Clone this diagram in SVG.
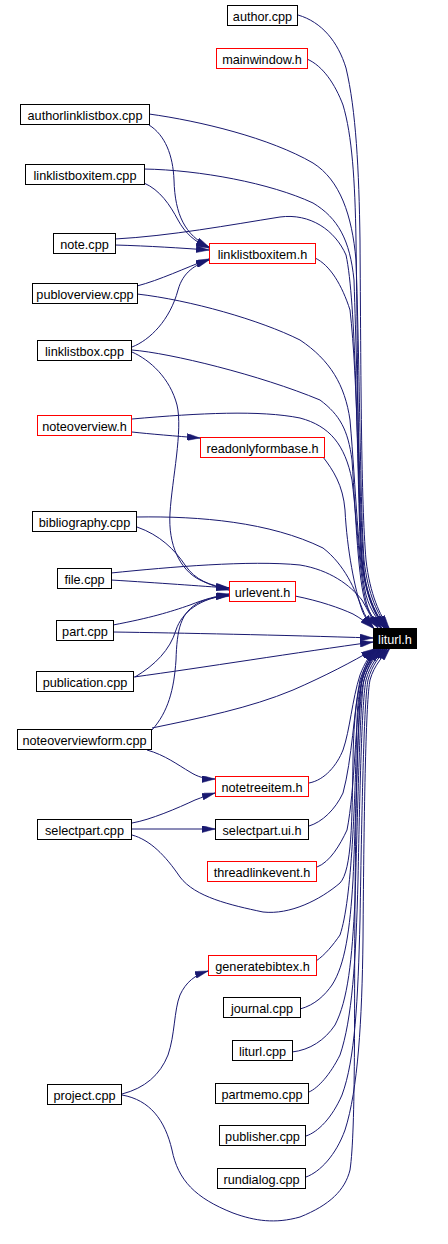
<svg xmlns="http://www.w3.org/2000/svg" width="448" height="1244" viewBox="0 0 448 1244">
<style>
.n rect{fill:#fff;stroke:#000;stroke-width:1}
.n.r rect{stroke:#ff0000}
.n text{font-family:"Liberation Sans",Arial,sans-serif;font-size:12.7px;fill:#000;text-anchor:middle}
.n.k rect{fill:#000;stroke:#000}
.n.k text{fill:#fff}
#edges path{fill:none;stroke:#191970;stroke-width:1;marker-end:url(#ah)}
</style>
<defs>
<marker id="ah" viewBox="0 0 13 7" markerWidth="13" markerHeight="7" refX="13" refY="3.5" orient="auto" markerUnits="userSpaceOnUse">
<path d="M0,0 L13,3.5 L0,7 z" fill="#191970" stroke="#191970" stroke-width="0.5"/>
</marker>
</defs>
<rect width="448" height="1244" fill="#fff"/>
<g id="edges">
<path d="M298,15 C322,22 338,42 346,68 C356,110 359,170 360,240 C361,380 361,500 366,560 C370,595 380,615 389,628"/>
<path d="M307,59 C323,66 335,84 343,105 C352,135 355,180 356,240 C358,380 358,500 362,560 C366,595 376,615 386,628"/>
<path d="M149,114 C200,121 270,138 313,163 C340,180 352,215 356,260 C360,380 360,500 364,560 C368,595 378,615 388,628"/>
<path d="M144,169 C200,170 270,183 313,203 C338,218 350,240 354,280 C358,400 360,520 364,570 C367,600 377,618 387,628"/>
<path d="M115,239 C170,236 230,225 280,217 C310,213 335,230 346,255 C356,300 357,450 360,540 C362,590 374,615 385,628"/>
<path d="M315,258 C330,265 342,285 350,310 C358,380 358,500 362,560 C365,595 376,616 386,628"/>
<path d="M137,294 C190,300 260,320 300,340 C330,360 345,385 350,420 C356,490 358,560 366,595 C370,610 378,620 384,628"/>
<path d="M132,350 C170,353 260,375 320,400 C340,415 348,430 352,460 C356,520 358,580 366,605 C370,615 376,622 382,628"/>
<path d="M132,419 C200,413 260,410 300,418 C330,426 345,445 352,480 C358,530 360,585 368,608 C372,618 377,624 381,628"/>
<path d="M323,457 C333,470 343,485 345,510 C347,550 355,590 362,610 C365,618 369,623 374,628"/>
<path d="M137,517 C200,516 270,522 323,548 C345,565 355,590 362,608 C365,616 369,622 373,628"/>
<path d="M111,573 C170,567 250,560 300,565 C330,570 350,585 362,600 C368,610 372,620 378,628"/>
<path d="M295,596 C320,601 340,608 353,614 C360,618 366,622 373,628"/>
<path d="M113,632 C180,633 280,635 373,638"/>
<path d="M134,677 C200,668 300,652 373,642"/>
<path d="M152,728 C200,718 250,708 293,690 C325,676 352,662 374,649"/>
<path d="M309,783 C325,780 337,765 343,750 C350,730 352,700 360,675 C365,662 370,655 376,648"/>
<path d="M309,826 C322,822 335,810 343,793 C352,760 354,710 360,680 C365,665 371,655 378,648"/>
<path d="M317,867 C330,862 340,845 347,830 C355,790 355,720 362,680 C366,665 372,655 380,648"/>
<path d="M132,835 C150,840 165,855 180,877 C195,897 230,905 263,912 C290,915 320,900 340,883 C352,870 352,820 353,760 C354,700 360,670 375,649"/>
<path d="M316,961 C325,955 333,945 340,935 C352,900 355,800 357,720 C358,680 368,660 380,648"/>
<path d="M300,1009 C315,1005 325,995 332,985 C345,965 350,930 353,880 C357,790 358,700 362,680 C366,665 374,655 382,648"/>
<path d="M292,1052 C310,1050 325,1040 335,1025 C348,1000 352,960 355,900 C358,800 360,700 364,680 C368,665 376,655 384,648"/>
<path d="M309,1092 C318,1088 330,1075 340,1055 C352,1020 356,960 358,880 C360,780 362,700 366,680 C370,665 378,655 386,648"/>
<path d="M306,1136 C318,1132 332,1118 342,1095 C355,1060 358,1000 360,920 C362,800 364,700 368,680 C372,665 380,655 388,648"/>
<path d="M306,1177 C320,1172 336,1155 345,1130 C358,1090 362,1020 363,940 C364,800 366,700 370,680 C374,665 384,655 390,648"/>
<path d="M122,1095 C150,1100 165,1120 172,1150 C178,1180 195,1198 233,1213 C255,1221 275,1224 300,1217 C330,1205 345,1190 350,1170 C356,1130 354,1000 355,900 C356,780 358,700 364,680 C368,666 374,656 378,648"/>
<path d="M149,125 C165,135 173,155 174,180 C175,215 185,235 209,247"/>
<path d="M144,183 C160,190 170,205 178,220 C185,233 195,242 209,248"/>
<path d="M115,245 C150,246 180,248 209,250"/>
<path d="M137,286 C160,280 185,268 209,259"/>
<path d="M132,347 C150,340 170,320 178,290 C183,272 195,265 209,260"/>
<path d="M132,432 C150,434 175,436 200,438"/>
<path d="M132,352 C150,360 170,378 177,405 C183,430 172,480 170,513 C168,545 180,570 200,580 C210,585 220,588 229,590"/>
<path d="M137,527 C160,535 175,550 185,565 C195,580 210,586 229,588"/>
<path d="M111,580 C160,583 200,586 229,588"/>
<path d="M113,625 C150,618 170,612 190,605 C205,599 217,596 229,594"/>
<path d="M135,677 C155,665 170,650 176,630 C182,612 200,598 229,595"/>
<path d="M152,730 C168,712 174,690 176,660 C177,630 180,612 200,602 C210,598 220,596 229,596"/>
<path d="M147,750 C165,755 178,765 190,772 C198,777 205,779 215,779"/>
<path d="M132,823 C150,820 178,808 195,800 C203,797 208,795 215,793"/>
<path d="M132,829 L215,829"/>
<path d="M122,1094 C145,1088 160,1075 168,1055 C175,1035 174,1010 180,995 C186,982 195,975 208,971"/>
</g>
<g id="author_cpp" class="n"><rect x="227.5" y="5.5" width="70" height="20"/><text x="262.5" y="21">author.cpp</text></g>
<g id="mainwindow_h" class="n r"><rect x="216.5" y="48.5" width="91" height="20"/><text x="262" y="64">mainwindow.h</text></g>
<g id="authorlinklistbox_cpp" class="n"><rect x="20.5" y="104.5" width="129" height="20"/><text x="85" y="120">authorlinklistbox.cpp</text></g>
<g id="linklistboxitem_cpp" class="n"><rect x="25.5" y="164.5" width="119" height="20"/><text x="85" y="180">linklistboxitem.cpp</text></g>
<g id="note_cpp" class="n"><rect x="53.5" y="233.5" width="62" height="20"/><text x="84.5" y="249">note.cpp</text></g>
<g id="linklistboxitem_h" class="n r"><rect x="209.5" y="243.5" width="106" height="20"/><text x="262.5" y="259">linklistboxitem.h</text></g>
<g id="publoverview_cpp" class="n"><rect x="32.5" y="283.5" width="105" height="20"/><text x="85" y="299">publoverview.cpp</text></g>
<g id="linklistbox_cpp" class="n"><rect x="37.5" y="340.5" width="94" height="20"/><text x="84.5" y="356">linklistbox.cpp</text></g>
<g id="noteoverview_h" class="n r"><rect x="37.5" y="415.5" width="94" height="20"/><text x="84.5" y="431">noteoverview.h</text></g>
<g id="readonlyformbase_h" class="n r"><rect x="200.5" y="437.5" width="124" height="20"/><text x="262.5" y="453">readonlyformbase.h</text></g>
<g id="bibliography_cpp" class="n"><rect x="32.5" y="511.5" width="104" height="20"/><text x="84.5" y="527">bibliography.cpp</text></g>
<g id="file_cpp" class="n"><rect x="57.5" y="568.5" width="54" height="20"/><text x="84.5" y="584">file.cpp</text></g>
<g id="urlevent_h" class="n r"><rect x="229.5" y="581.5" width="66" height="20"/><text x="262.5" y="597">urlevent.h</text></g>
<g id="part_cpp" class="n"><rect x="56.5" y="620.5" width="57" height="20"/><text x="85" y="636">part.cpp</text></g>
<g id="liturl_h" class="n k"><rect x="373.5" y="628.5" width="43" height="20"/><text x="395" y="644">liturl.h</text></g>
<g id="publication_cpp" class="n"><rect x="36.5" y="671.5" width="97" height="20"/><text x="85" y="687">publication.cpp</text></g>
<g id="noteoverviewform_cpp" class="n"><rect x="17.5" y="729.5" width="134" height="20"/><text x="84.5" y="745">noteoverviewform.cpp</text></g>
<g id="notetreeitem_h" class="n r"><rect x="215.5" y="776.5" width="93" height="20"/><text x="262" y="792">notetreeitem.h</text></g>
<g id="selectpart_cpp" class="n"><rect x="37.5" y="819.5" width="94" height="20"/><text x="84.5" y="835">selectpart.cpp</text></g>
<g id="selectpart_ui_h" class="n"><rect x="215.5" y="819.5" width="93" height="20"/><text x="262" y="835">selectpart.ui.h</text></g>
<g id="threadlinkevent_h" class="n r"><rect x="207.5" y="861.5" width="109" height="20"/><text x="262" y="877">threadlinkevent.h</text></g>
<g id="generatebibtex_h" class="n r"><rect x="208.5" y="955.5" width="108" height="20"/><text x="262.5" y="971">generatebibtex.h</text></g>
<g id="journal_cpp" class="n"><rect x="223.5" y="997.5" width="77" height="20"/><text x="262" y="1013">journal.cpp</text></g>
<g id="liturl_cpp" class="n"><rect x="232.5" y="1040.5" width="60" height="20"/><text x="262.5" y="1056">liturl.cpp</text></g>
<g id="partmemo_cpp" class="n"><rect x="215.5" y="1083.5" width="93" height="20"/><text x="262" y="1099">partmemo.cpp</text></g>
<g id="publisher_cpp" class="n"><rect x="219.5" y="1125.5" width="86" height="20"/><text x="262.5" y="1141">publisher.cpp</text></g>
<g id="rundialog_cpp" class="n"><rect x="217.5" y="1168.5" width="88" height="20"/><text x="261.5" y="1184">rundialog.cpp</text></g>
<g id="project_cpp" class="n"><rect x="47.5" y="1084.5" width="74" height="20"/><text x="84.5" y="1100">project.cpp</text></g>
</svg>
